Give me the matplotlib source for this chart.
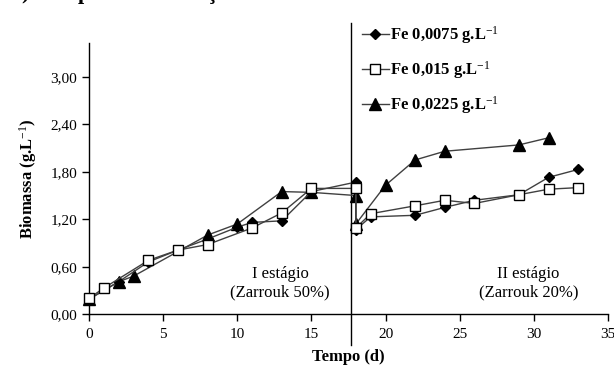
import numpy as np
import matplotlib
matplotlib.use("Agg")
import matplotlib.pyplot as plt

# Stage I / II data (days, g/L)
t_fe1 = [0, 2, 4, 6, 8, 10, 11, 13, 15, 18, 18, 19, 22, 24, 26, 29, 31, 33]
fe1 = [0.19, 0.41, 0.66, 0.81, 0.95, 1.10, 1.16, 1.18, 1.55, 1.67, 1.07, 1.23, 1.25, 1.35, 1.44, 1.51, 1.73, 1.83]

t_fe2 = [0, 1, 4, 6, 8, 11, 13, 15, 18, 18, 19, 22, 24, 26, 29, 31, 33]
fe2 = [0.20, 0.33, 0.68, 0.81, 0.88, 1.09, 1.28, 1.59, 1.59, 1.09, 1.27, 1.37, 1.44, 1.40, 1.51, 1.58, 1.60]

t_fe3 = [0, 2, 3, 8, 10, 13, 15, 18, 18, 20, 22, 24, 29, 31]
fe3 = [0.19, 0.41, 0.48, 1.00, 1.14, 1.55, 1.54, 1.50, 1.14, 1.63, 1.95, 2.06, 2.14, 2.23]

labels = ["Fe 0,0075 g.L$^{-1}$", "Fe 0,015 g.L$^{-1}$", "Fe 0,0225 g.L$^{-1}$"]
x_ticks = [0, 5, 10, 15, 20, 25, 30, 35]
y_ticks = [0.0, 0.6, 1.2, 1.8, 2.4, 3.0]
stage_change = 17.7

plt.rcParams['font.family'] = ['Liberation Serif', 'DejaVu Serif']
plt.rcParams['mathtext.fontset'] = 'custom'
plt.rcParams['mathtext.rm'] = 'Liberation Serif'
plt.rcParams['mathtext.it'] = 'Liberation Serif'
plt.rcParams['mathtext.bf'] = 'Liberation Serif:bold'

fig = plt.figure(figsize=(6.14, 3.70), dpi=100)
ax = fig.add_axes([0.145, 0.151, 0.845, 0.733])

line_col = '#404040'
ax.plot(t_fe1, fe1, color=line_col, lw=1.0, marker='D', ms=5.5,
        mfc='black', mec='black', label=labels[0], zorder=4, clip_on=False)
ax.plot(t_fe2, fe2, color=line_col, lw=1.0, marker='s', ms=7.5,
        mfc='white', mec='black', mew=1.0, label=labels[1], zorder=5, clip_on=False)
ax.plot(t_fe3, fe3, color=line_col, lw=1.0, marker='^', ms=8.5,
        mfc='black', mec='black', label=labels[2], zorder=3, clip_on=False)

# stage separator, runs past the axes on both ends
ax.plot([stage_change, stage_change], [-0.39, 3.68], color='black', lw=1.0,
        clip_on=False, zorder=2)

ax.set_xlim(0, 35)
ax.set_ylim(0, 3.43)
ax.set_xticks(x_ticks)
ax.set_yticks(y_ticks)
ax.set_yticklabels([f"{v:.2f}".replace('.', ',') for v in y_ticks])
ax.tick_params(labelsize=11, length=5, width=1.0, direction='out', colors='black')
ax.tick_params(axis='x', pad=5)
ax.spines['top'].set_visible(False)
ax.spines['right'].set_visible(False)
ax.spines['left'].set_linewidth(1.0)
ax.spines['bottom'].set_linewidth(1.0)

ax.set_xlabel("Tempo (d)", fontsize=12, fontweight='bold', labelpad=6)
ax.set_ylabel("Biomassa (g.L$^{-1}$)", fontsize=12, fontweight='bold', labelpad=8)

ax.text(12.9, 0.39, "I estágio\n(Zarrouk 50%)", ha='center', va='center',
        fontsize=12, linespacing=1.25)
ax.text(29.65, 0.39, "II estágio\n(Zarrouk 20%)", ha='center', va='center',
        fontsize=12, linespacing=1.25)

leg = ax.legend(loc='upper left', bbox_to_anchor=(362 / 614, 1 - 24 / 370),
                bbox_transform=fig.transFigure, frameon=False,
                prop={'weight': 'bold', 'size': 12}, handlelength=1.6,
                handletextpad=0.1, labelspacing=0.8, borderpad=0, borderaxespad=0)

# caption cut off at the top edge: only descenders show, as in the source image
for xpos, ch in [(21, ")"), (78, "p"), (206, "ç")]:
    fig.text(xpos / 614, 1.0 + 0.5 / 370, ch, fontsize=16, fontweight='bold',
             va='baseline')

fig.savefig("out.png", dpi=100)
